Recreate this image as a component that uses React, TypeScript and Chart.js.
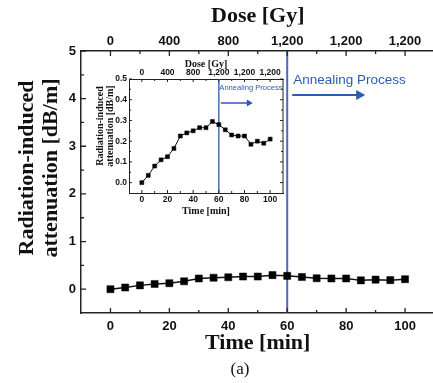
import { useEffect, useRef } from "react";
import { Chart, registerables } from "chart.js";
Chart.register(...registerables);

// ---- data ----
const timeMin = [0, 5, 10, 15, 20, 25, 30, 35, 40, 45, 50, 55, 60, 65, 70, 75, 80, 85, 90, 95, 100];
const attenuation = [0, 0.035, 0.08, 0.11, 0.125, 0.165, 0.225, 0.24, 0.25, 0.265, 0.265, 0.295, 0.28, 0.255, 0.23, 0.225, 0.225, 0.185, 0.2, 0.19, 0.21];
const timeTicks = [0, 20, 40, 60, 80, 100];
const doseLabels = ["0", "400", "800", "1,200", "1,200", "1,200"];
const mainYTicks = [0, 1, 2, 3, 4, 5];
const insetYTicks = [0, 0.1, 0.2, 0.3, 0.4, 0.5];
const annealStart = 60;
const annealLabel = "Annealing Process";
const yTitleLines = ["Radiation-induced", "attenuation [dB/m]"];
const xTitle = "Time [min]";
const topTitle = "Dose [Gy]";
const panelLabel = "(a)";

const SANS = "'Liberation Sans', Arial, Helvetica, sans-serif";
const SERIF = "'Liberation Serif', 'Times New Roman', Times, serif";
const BLUE_LINE = "#4a6cb3";
const BLUE_TEXT = "#2d5db0";

const mids = (arr: number[]) => arr.slice(1).map((v, i) => (v + arr[i]) / 2);

type DecorCfg = {
  name: string;
  tickLen: number;
  minorLen: number;
  tickWidth: number;
  vlineWidth: number;
  yMinor: number[];
  rightBorder: boolean;
  titleFont: string;
  topTitleY: number;
  xTitleY: number;
  yTitleX: number[];
  yTitleY: number;
  panel?: { x: number; y: number; font: string };
  annFont: string;
  annDx: number;
  annY: number;
  arrowX0: number;
  arrowX1: number;
  arrowY: number;
  arrowW: number;
  headL: number;
  headH: number;
};

function makeDecor(cfg: DecorCfg) {
  return {
    id: "decor_" + cfg.name,
    beforeDatasetsDraw(chart: any) {
      const { ctx, chartArea: a, scales } = chart;
      const px = scales.x.getPixelForValue(annealStart);
      ctx.save();
      ctx.strokeStyle = BLUE_LINE;
      ctx.lineWidth = cfg.vlineWidth;
      ctx.beginPath();
      ctx.moveTo(px, a.top);
      ctx.lineTo(px, a.bottom);
      ctx.stroke();
      ctx.restore();
    },
    afterDraw(chart: any) {
      const { ctx, chartArea: a, scales } = chart;
      const x = scales.x;
      const y = scales.y;
      ctx.save();
      ctx.strokeStyle = "#222";
      ctx.lineWidth = cfg.tickWidth;
      ctx.beginPath();
      const xMinor = mids(timeTicks);
      const vx = (vals: number[], len: number) => {
        vals.forEach((v) => {
          const p = x.getPixelForValue(v);
          ctx.moveTo(p, a.bottom);
          ctx.lineTo(p, a.bottom - len);
          ctx.moveTo(p, a.top);
          ctx.lineTo(p, a.top + len);
        });
      };
      const vy = (vals: number[], len: number) => {
        vals.forEach((v) => {
          const p = y.getPixelForValue(v);
          ctx.moveTo(a.left, p);
          ctx.lineTo(a.left + len, p);
          if (cfg.rightBorder) {
            ctx.moveTo(a.right, p);
            ctx.lineTo(a.right - len, p);
          }
        });
      };
      vx(timeTicks, cfg.tickLen);
      vx(xMinor, cfg.minorLen);
      vy(y.ticks.map((t: any) => t.value), cfg.tickLen);
      vy(cfg.yMinor, cfg.minorLen);
      ctx.stroke();
      if (cfg.rightBorder) {
        ctx.beginPath();
        ctx.moveTo(a.right, a.top);
        ctx.lineTo(a.right, a.bottom);
        ctx.stroke();
      }

      // titles
      const cx = (a.left + a.right) / 2;
      ctx.fillStyle = "#111";
      ctx.textAlign = "center";
      ctx.textBaseline = "middle";
      ctx.font = cfg.titleFont;
      ctx.fillText(topTitle, cx, cfg.topTitleY);
      ctx.fillText(xTitle, cx, cfg.xTitleY);
      yTitleLines.forEach((line, i) => {
        ctx.save();
        ctx.translate(cfg.yTitleX[i], cfg.yTitleY);
        ctx.rotate(-Math.PI / 2);
        ctx.fillText(line, 0, 0);
        ctx.restore();
      });
      if (cfg.panel) {
        ctx.font = cfg.panel.font;
        ctx.fillText(panelLabel, cfg.panel.x, cfg.panel.y);
      }

      // annealing annotation
      const px = x.getPixelForValue(annealStart);
      ctx.fillStyle = BLUE_TEXT;
      ctx.strokeStyle = BLUE_TEXT;
      ctx.font = cfg.annFont;
      ctx.textAlign = "left";
      ctx.fillText(annealLabel, px + cfg.annDx, cfg.annY);
      const x0 = px + cfg.arrowX0;
      const x1 = px + cfg.arrowX1;
      ctx.lineWidth = cfg.arrowW;
      ctx.beginPath();
      ctx.moveTo(x0, cfg.arrowY);
      ctx.lineTo(x1 - cfg.headL + 1, cfg.arrowY);
      ctx.stroke();
      ctx.beginPath();
      ctx.moveTo(x1, cfg.arrowY);
      ctx.lineTo(x1 - cfg.headL, cfg.arrowY - cfg.headH / 2);
      ctx.lineTo(x1 - cfg.headL, cfg.arrowY + cfg.headH / 2);
      ctx.closePath();
      ctx.fill();
      ctx.restore();
    },
  };
}

function buildConfig(opts: {
  yMin: number;
  yMax: number;
  yTicks: number[];
  yFmt: (v: number) => string;
  tickFont: number;
  leftW: number;
  topH: number;
  bottomH: number;
  padRight: number;
  xPad: number;
  topPad: number;
  yPad: number;
  borderW: number;
  pointR: number;
  lineW: number;
  decor: any;
}) {
  const font = { family: SANS, weight: "bold" as const, size: opts.tickFont };
  return {
    type: "line" as const,
    data: {
      datasets: [
        {
          data: timeMin.map((t, i) => ({ x: t, y: attenuation[i] })),
          borderColor: "#111",
          borderWidth: opts.lineW,
          pointStyle: "rect" as const,
          pointRadius: opts.pointR,
          pointBackgroundColor: "#000",
          pointBorderColor: "#000",
          pointBorderWidth: 0.5,
          tension: 0,
        },
      ],
    },
    options: {
      animation: false as const,
      responsive: false,
      devicePixelRatio: 1,
      layout: { padding: { left: 0, top: 0, right: opts.padRight, bottom: 0 } },
      plugins: { legend: { display: false }, tooltip: { enabled: false } },
      scales: {
        x: {
          type: "linear" as const,
          position: "bottom" as const,
          min: -10,
          max: 110,
          afterBuildTicks: (s: any) => {
            s.ticks = timeTicks.map((v) => ({ value: v }));
          },
          afterFit: (s: any) => {
            s.height = opts.bottomH;
          },
          grid: { display: false, drawTicks: false },
          border: { display: true, color: "#222", width: opts.borderW },
          ticks: { font, color: "#111", padding: opts.xPad, maxRotation: 0, autoSkip: false, callback: (v: any) => String(v) },
        },
        x2: {
          type: "linear" as const,
          position: "top" as const,
          min: -10,
          max: 110,
          afterBuildTicks: (s: any) => {
            s.ticks = timeTicks.map((v) => ({ value: v }));
          },
          afterFit: (s: any) => {
            s.height = opts.topH;
          },
          grid: { display: false, drawTicks: false },
          border: { display: true, color: "#222", width: opts.borderW },
          ticks: {
            font,
            color: "#111",
            padding: opts.topPad,
            maxRotation: 0,
            autoSkip: false,
            callback: (v: any) => doseLabels[timeTicks.indexOf(v)] ?? "",
          },
        },
        y: {
          type: "linear" as const,
          position: "left" as const,
          min: opts.yMin,
          max: opts.yMax,
          afterBuildTicks: (s: any) => {
            s.ticks = opts.yTicks.map((v) => ({ value: v }));
          },
          afterFit: (s: any) => {
            s.width = opts.leftW;
          },
          grid: { display: false, drawTicks: false },
          border: { display: true, color: "#222", width: opts.borderW },
          ticks: { font, color: "#111", padding: opts.yPad, callback: (v: any) => opts.yFmt(v) },
        },
      },
    },
    plugins: [opts.decor],
  };
}

export default function App() {
  const mainRef = useRef<HTMLCanvasElement>(null);
  const insetRef = useRef<HTMLCanvasElement>(null);

  useEffect(() => {
    const mainDecor = makeDecor({
      name: "main",
      tickLen: 5,
      minorLen: 3,
      tickWidth: 1.3,
      vlineWidth: 2,
      yMinor: mids(mainYTicks),
      rightBorder: false,
      titleFont: `bold 22px ${SERIF}`,
      topTitleY: 16,
      xTitleY: 343,
      yTitleX: [27, 51],
      yTitleY: 168,
      panel: { x: 240, y: 370, font: `17px ${SERIF}` },
      annFont: `13.5px ${SANS}`,
      annDx: 6,
      annY: 80,
      arrowX0: 5,
      arrowX1: 78,
      arrowY: 95,
      arrowW: 2,
      headL: 9,
      headH: 10,
    });
    const insetDecor = makeDecor({
      name: "inset",
      tickLen: 3,
      minorLen: 2,
      tickWidth: 1,
      vlineWidth: 1.5,
      yMinor: mids(insetYTicks),
      rightBorder: true,
      titleFont: `bold 10px ${SERIF}`,
      topTitleY: 10,
      xTitleY: 157,
      yTitleX: [12, 22.5],
      yTitleY: 72,
      annFont: `7.6px ${SANS}`,
      annDx: 0.5,
      annY: 34,
      arrowX0: 2,
      arrowX1: 34,
      arrowY: 49,
      arrowW: 1.5,
      headL: 6,
      headH: 7,
    });
    const main = new Chart(
      mainRef.current!,
      buildConfig({
        yMin: -0.5,
        yMax: 5,
        yTicks: mainYTicks,
        yFmt: (v) => String(v),
        tickFont: 13,
        leftW: 81,
        topH: 51,
        bottomH: 70,
        padRight: 5.5,
        xPad: 6,
        topPad: 2,
        yPad: 5,
        borderW: 1.5,
        pointR: 5,
        lineW: 1.5,
        decor: mainDecor,
      }) as any
    );
    const inset = new Chart(
      insetRef.current!,
      buildConfig({
        yMin: -0.05,
        yMax: 0.5,
        yTicks: insetYTicks,
        yFmt: (v) => v.toFixed(1),
        tickFont: 8.5,
        leftW: 41,
        topH: 25,
        bottomH: 27,
        padRight: 17,
        xPad: 2,
        topPad: 1,
        yPad: 2,
        borderW: 1,
        pointR: 2.8,
        lineW: 1,
        decor: insetDecor,
      }) as any
    );
    return () => {
      main.destroy();
      inset.destroy();
    };
  }, []);

  return (
    <div style={{ position: "fixed", left: 0, top: 0, width: 433, height: 383, overflow: "hidden", background: "#fff" }}>
      <canvas ref={mainRef} width={440} height={383} style={{ position: "absolute", left: 0, top: 0, width: 440, height: 383 }} />
      <canvas ref={insetRef} width={212} height={166} style={{ position: "absolute", left: 88, top: 54, width: 212, height: 166 }} />
    </div>
  );
}
